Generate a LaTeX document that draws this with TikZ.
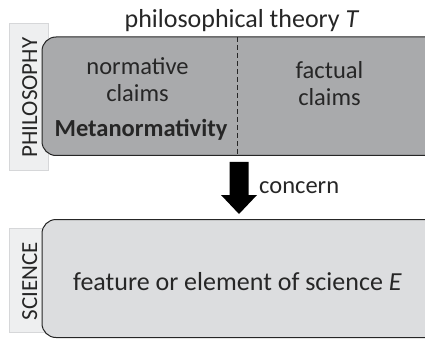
\documentclass[tikz,border=0pt]{standalone}
\usepackage{fontspec}
\setmainfont{Carlito}
\definecolor{labfill}{HTML}{EEEFF0}
\definecolor{labdraw}{HTML}{D6D7D9}
\definecolor{topfill}{HTML}{A9AAAC}
\definecolor{botfill}{HTML}{DCDDDF}
\definecolor{txt}{HTML}{262626}
\begin{document}
\begin{tikzpicture}[x=1pt,y=-1pt,
  labbox/.style={draw=labdraw,fill=labfill,line width=0.6pt},
  mainbox/.style={draw=black!85,line width=1pt,rounded corners=14pt},
  txtstyle/.style={text=txt,inner sep=0pt,anchor=base},
  big/.style={txtstyle,font=\fontsize{26}{28}\selectfont},
  mid/.style={txtstyle,font=\fontsize{24.5}{27}\selectfont},
  lab/.style={txtstyle,font=\fontsize{23}{24}\selectfont,rotate=90}]
\useasboundingbox (0,0) rectangle (425,339);
\begin{scope}
\clip (0,0) rectangle (425,339);
\path[labbox] (9,23) rectangle (48,170);
\path[labbox] (9,228) rectangle (48,332);
\path[mainbox,fill=topfill] (42,37) rectangle (440,155.5);
\path[mainbox,fill=botfill] (42,219.5) rectangle (440,337.5);
\end{scope}
\node[lab] (phil) at (37,97.5) {PHILOSOPHY};
\node[lab] (sci) at (37,281) {SCIENCE};
\node[big] (title) at (242,28) {philosophical theory \textit{T}};
\coordinate (dtop) at (237,37);
\coordinate (dbot) at (237,155.5);
\draw[black!85,line width=0.8pt,dash pattern=on 5pt off 3pt] (dtop) -- (dbot);
\node[mid] (norm1) at (137.5,75) {normative};
\node[mid] (norm2) at (137.5,102) {claims};
\node[mid] (meta) at (141,137) {\bfseries Metanormativity};
\node[mid] (fact1) at (329.5,79) {factual};
\node[mid] (fact2) at (329.5,106) {claims};
\node[big] (feat) at (237.5,290) {feature or element of science \textit{E}};
% block arrow
\coordinate (atop) at (239,162);
\fill[black] ([xshift=-9.5pt]atop) -- ([xshift=9.5pt]atop) -- ([xshift=9.5pt,yshift=-33pt]atop)
  -- ([xshift=18pt,yshift=-33pt]atop) -- ([yshift=-52pt]atop) -- ([xshift=-18pt,yshift=-33pt]atop)
  -- ([xshift=-9.5pt,yshift=-33pt]atop) -- cycle;
\node[mid,anchor=base west] (conc) at (259,193) {concern};
\end{tikzpicture}
\end{document}
